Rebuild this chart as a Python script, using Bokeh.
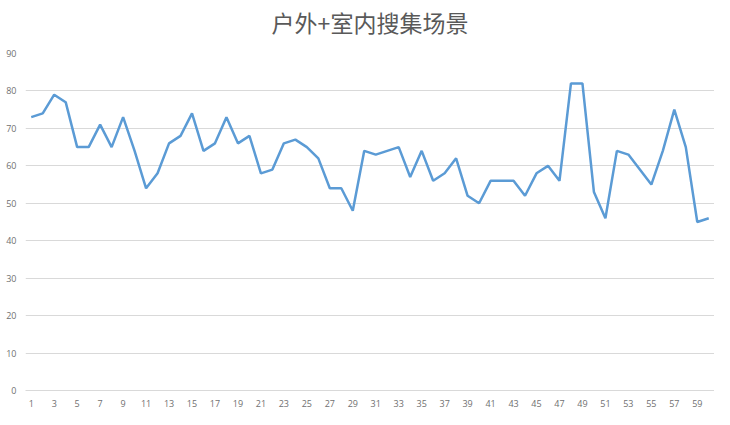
from bokeh.plotting import figure
from bokeh.models import FixedTicker, Range1d, Title
from bokeh.embed import file_html
from bokeh.resources import INLINE

title_text = "户外+室内搜集场景"
x_values = list(range(1, 61))
y_values = [73, 74, 79, 77, 65, 65, 71, 65, 73, 64,
            54, 58, 66, 68, 74, 64, 66, 73, 66, 68,
            58, 59, 66, 67, 65, 62, 54, 54, 48, 64,
            63, 64, 65, 57, 64, 56, 58, 62, 52, 50,
            56, 56, 56, 52, 58, 60, 56, 82, 82, 53,
            46, 64, 63, 59, 55, 64, 75, 65, 45, 46]
x_ticks = list(range(1, 60, 2))
y_ticks = list(range(0, 100, 10))

p = figure(width=714, height=409, output_backend="svg", toolbar_location=None,
           x_range=Range1d(0.5, 60.5), y_range=Range1d(0, 90),
           min_border_left=25, min_border_right=0, min_border_top=0, min_border_bottom=18)

# thin empty spacer between the plot area and the title
spacer = Title(text=" ", text_font="Open Sans", text_font_size="2px", standoff=4)
p.add_layout(spacer, "above")

main_title = Title(text=title_text, align="center", vertical_align="top",
                   text_font="Noto Sans CJK SC", text_font_size="23px",
                   text_font_style="normal", text_color="#595959", standoff=8)
p.add_layout(main_title, "above")

p.line(x_values, y_values, line_color="#5B9BD5", line_width=2.5)

p.outline_line_color = None
p.background_fill_color = "white"
p.border_fill_color = "white"

p.xgrid.grid_line_color = None
p.ygrid.grid_line_color = "#d9d9d9"
p.ygrid.grid_line_width = 1
p.yaxis.ticker = FixedTicker(ticks=y_ticks)
p.xaxis.ticker = FixedTicker(ticks=x_ticks)

for ax in (p.xaxis, p.yaxis):
    ax.major_tick_line_color = None
    ax.minor_tick_line_color = None
    ax.major_label_text_font = "Open Sans"
    ax.major_label_text_font_size = "9px"
    ax.major_label_text_color = "#707070"

p.yaxis.axis_line_color = None
p.yaxis.major_label_standoff = 3
p.xaxis.axis_line_color = "#d9d9d9"
p.xaxis.major_label_standoff = 3

open("out.html", "w").write(file_html(p, INLINE))
